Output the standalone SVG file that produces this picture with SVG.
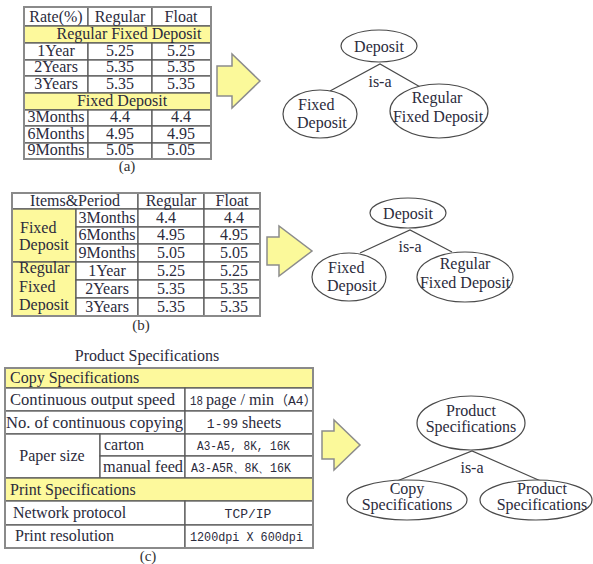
<svg xmlns="http://www.w3.org/2000/svg" width="593" height="564" viewBox="0 0 593 564">
  <style>
    .bg { fill: #ffffff; }
    .cell { fill: #ffffff; stroke: #5a5a5a; stroke-width: 1.3; }
    .hi { fill: #fdf99c; stroke: #5a5a5a; stroke-width: 1.3; }
    .frame { fill: none; stroke: #8a8a8a; stroke-width: 2; }
    .t { font-family: "Liberation Serif", "Times New Roman", serif; font-size: 16px; fill: #2b2b3c; }
    .m { font-family: "Liberation Mono", "Courier New", monospace; font-size: 13px; fill: #2b2b3c; }
    .k { font-family: "Noto Sans CJK SC", sans-serif; font-size: 13px; fill: #2b2b3c; }
    .c { text-anchor: middle; }
    .cap { font-family: "Liberation Serif", "Times New Roman", serif; font-size: 15px; fill: #333; text-anchor: middle; }
    .arrow { fill: #fbf99a; stroke: #8c8c8c; stroke-width: 1.5; stroke-linejoin: miter; }
    .node ellipse { fill: #ffffff; stroke: #4a4a4a; stroke-width: 1.2; }
    .node text, .rel { font-family: "Liberation Serif", "Times New Roman", serif; font-size: 16px; fill: #2b2b3c; }
    .link { stroke: #4a4a4a; stroke-width: 1.2; fill: none; }
  </style>
  <rect class="bg" x="0" y="0" width="593" height="564"/>

  <!-- Table (a): rates by deposit type -->
  <g id="table-a">
    <rect class="cell" x="24" y="7" width="64" height="19"/>
    <rect class="cell" x="88" y="7" width="64" height="19"/>
    <rect class="cell" x="152" y="7" width="59" height="19"/>
    <rect class="hi" x="24" y="26" width="187" height="17"/>
    <rect class="cell" x="24" y="43" width="64" height="17"/>
    <rect class="cell" x="88" y="43" width="64" height="17"/>
    <rect class="cell" x="152" y="43" width="59" height="17"/>
    <rect class="cell" x="24" y="60" width="64" height="16"/>
    <rect class="cell" x="88" y="60" width="64" height="16"/>
    <rect class="cell" x="152" y="60" width="59" height="16"/>
    <rect class="cell" x="24" y="76" width="64" height="17"/>
    <rect class="cell" x="88" y="76" width="64" height="17"/>
    <rect class="cell" x="152" y="76" width="59" height="17"/>
    <rect class="hi" x="24" y="93" width="187" height="17"/>
    <rect class="cell" x="24" y="110" width="64" height="16"/>
    <rect class="cell" x="88" y="110" width="64" height="16"/>
    <rect class="cell" x="152" y="110" width="59" height="16"/>
    <rect class="cell" x="24" y="126" width="64" height="17"/>
    <rect class="cell" x="88" y="126" width="64" height="17"/>
    <rect class="cell" x="152" y="126" width="59" height="17"/>
    <rect class="cell" x="24" y="143" width="64" height="16"/>
    <rect class="cell" x="88" y="143" width="64" height="16"/>
    <rect class="cell" x="152" y="143" width="59" height="16"/>
    <rect class="frame" x="24" y="7" width="187" height="152"/>

    <text class="t c" x="56" y="22">Rate(%)</text>
    <text class="t c" x="120" y="22">Regular</text>
    <text class="t c" x="181" y="22">Float</text>
    <text class="t c" x="129" y="39">Regular Fixed Deposit</text>
    <text class="t c" x="56" y="56">1Year</text>
    <text class="t c" x="120" y="56">5.25</text>
    <text class="t c" x="181" y="56">5.25</text>
    <text class="t c" x="56" y="72">2Years</text>
    <text class="t c" x="120" y="72">5.35</text>
    <text class="t c" x="181" y="72">5.35</text>
    <text class="t c" x="56" y="89">3Years</text>
    <text class="t c" x="120" y="89">5.35</text>
    <text class="t c" x="181" y="89">5.35</text>
    <text class="t c" x="122" y="106">Fixed Deposit</text>
    <text class="t c" x="56" y="122">3Months</text>
    <text class="t c" x="120" y="122">4.4</text>
    <text class="t c" x="181" y="122">4.4</text>
    <text class="t c" x="56" y="139">6Months</text>
    <text class="t c" x="120" y="139">4.95</text>
    <text class="t c" x="181" y="139">4.95</text>
    <text class="t c" x="56" y="155">9Months</text>
    <text class="t c" x="120" y="155">5.05</text>
    <text class="t c" x="181" y="155">5.05</text>
    <text class="cap" x="127" y="171">(a)</text>
  </g>

  <!-- Table (b): rates grouped by item and period -->
  <g id="table-b">
    <rect class="cell" x="12" y="193" width="126" height="16"/>
    <rect class="cell" x="138" y="193" width="66" height="16"/>
    <rect class="cell" x="204" y="193" width="56" height="16"/>
    <rect class="hi" x="12" y="209" width="64" height="53"/>
    <rect class="hi" x="12" y="262" width="64" height="54"/>
    <rect class="cell" x="76" y="209" width="62" height="18"/>
    <rect class="cell" x="138" y="209" width="66" height="18"/>
    <rect class="cell" x="204" y="209" width="56" height="18"/>
    <rect class="cell" x="76" y="227" width="62" height="17"/>
    <rect class="cell" x="138" y="227" width="66" height="17"/>
    <rect class="cell" x="204" y="227" width="56" height="17"/>
    <rect class="cell" x="76" y="244" width="62" height="18"/>
    <rect class="cell" x="138" y="244" width="66" height="18"/>
    <rect class="cell" x="204" y="244" width="56" height="18"/>
    <rect class="cell" x="76" y="262" width="62" height="18"/>
    <rect class="cell" x="138" y="262" width="66" height="18"/>
    <rect class="cell" x="204" y="262" width="56" height="18"/>
    <rect class="cell" x="76" y="280" width="62" height="18"/>
    <rect class="cell" x="138" y="280" width="66" height="18"/>
    <rect class="cell" x="204" y="280" width="56" height="18"/>
    <rect class="cell" x="76" y="298" width="62" height="18"/>
    <rect class="cell" x="138" y="298" width="66" height="18"/>
    <rect class="cell" x="204" y="298" width="56" height="18"/>
    <rect class="frame" x="12" y="193" width="248" height="123"/>

    <text class="t c" x="75" y="206">Items&amp;Period</text>
    <text class="t c" x="171" y="206">Regular</text>
    <text class="t c" x="232" y="206">Float</text>
    <text class="t" x="20" y="233">Fixed</text>
    <text class="t" x="19" y="250">Deposit</text>
    <text class="t" x="19" y="273">Regular</text>
    <text class="t" x="19" y="292">Fixed</text>
    <text class="t" x="19" y="310">Deposit</text>
    <text class="t c" x="107" y="223">3Months</text>
    <text class="t c" x="107" y="240">6Months</text>
    <text class="t c" x="107" y="258">9Months</text>
    <text class="t c" x="107" y="276">1Year</text>
    <text class="t c" x="107" y="294">2Years</text>
    <text class="t c" x="107" y="312">3Years</text>
    <text class="t c" x="166" y="223">4.4</text>
    <text class="t c" x="171" y="240">4.95</text>
    <text class="t c" x="171" y="258">5.05</text>
    <text class="t c" x="171" y="276">5.25</text>
    <text class="t c" x="171" y="294">5.35</text>
    <text class="t c" x="171" y="312">5.35</text>
    <text class="t c" x="234" y="223">4.4</text>
    <text class="t c" x="234" y="240">4.95</text>
    <text class="t c" x="234" y="258">5.05</text>
    <text class="t c" x="234" y="276">5.25</text>
    <text class="t c" x="234" y="294">5.35</text>
    <text class="t c" x="234" y="312">5.35</text>
    <text class="cap" x="141" y="330">(b)</text>
  </g>

  <!-- Table (c): product specifications -->
  <g id="table-c">
    <text class="t c" x="147" y="361">Product Specifications</text>
    <rect class="hi" x="5" y="368" width="308" height="20"/>
    <rect class="cell" x="5" y="388" width="180" height="23"/>
    <rect class="cell" x="185" y="388" width="128" height="23"/>
    <rect class="cell" x="5" y="411" width="180" height="23"/>
    <rect class="cell" x="185" y="411" width="128" height="23"/>
    <rect class="cell" x="5" y="434" width="95" height="44"/>
    <rect class="cell" x="100" y="434" width="85" height="22"/>
    <rect class="cell" x="185" y="434" width="128" height="22"/>
    <rect class="cell" x="100" y="456" width="85" height="22"/>
    <rect class="cell" x="185" y="456" width="128" height="22"/>
    <rect class="hi" x="5" y="478" width="308" height="23"/>
    <rect class="cell" x="5" y="501" width="180" height="24"/>
    <rect class="cell" x="185" y="501" width="128" height="24"/>
    <rect class="cell" x="5" y="525" width="180" height="23"/>
    <rect class="cell" x="185" y="525" width="128" height="23"/>
    <rect class="frame" x="5" y="368" width="308" height="180"/>

    <text class="t" x="10" y="383">Copy Specifications</text>
    <text class="t" x="10" y="405" textLength="165" lengthAdjust="spacingAndGlyphs">Continuous output speed</text>
    <text class="t" x="6" y="428" textLength="177" lengthAdjust="spacingAndGlyphs">No. of continuous copying</text>
    <text class="t c" x="52" y="461">Paper size</text>
    <text class="t" x="104" y="450">carton</text>
    <text class="t" x="103" y="472" textLength="80" lengthAdjust="spacingAndGlyphs">manual feed</text>
    <text class="t" x="10" y="495">Print Specifications</text>
    <text class="t" x="13" y="518">Network protocol</text>
    <text class="t" x="15" y="541">Print resolution</text>

    <!-- "18 page / min（A4）" set in three runs -->
    <text class="m" x="190" y="405" textLength="13" lengthAdjust="spacingAndGlyphs">18</text>
    <text class="t" x="206" y="405" textLength="68" lengthAdjust="spacingAndGlyphs">page / min</text>
    <text class="k" x="275" y="405">（<tspan class="m" font-size="11">A4</tspan>）</text>
    <text class="t c" x="244" y="428"><tspan class="m">1-99</tspan> sheets</text>
    <text class="m" x="197" y="450" textLength="93" lengthAdjust="spacingAndGlyphs">A3-A5, 8K, 16K</text>
    <text class="m" x="191" y="472" textLength="100" lengthAdjust="spacingAndGlyphs">A3-A5R、8K、16K</text>
    <text class="m c" x="248" y="518">TCP/IP</text>
    <text class="m" x="190" y="541" textLength="113" lengthAdjust="spacingAndGlyphs">1200dpi X 600dpi</text>
    <text class="cap" x="148" y="561">(c)</text>
  </g>

  <!-- Block arrows pointing from each table to its hierarchy -->
  <g id="arrows">
    <polygon class="arrow" points="217,66 232,66 232,54 260,81 232,108 232,96 217,96"/>
    <polygon class="arrow" points="267,237 279,237 279,226 312,251 279,276 279,265 267,265"/>
    <polygon class="arrow" points="322,431 334,431 334,420 360,445 334,470 334,459 322,459"/>
  </g>

  <!-- is-a connectors -->
  <g id="connectors">
    <polyline class="link" points="330,91 380,64 422,88"/>
    <polyline class="link" points="360,253 410,230 452,252"/>
    <polyline class="link" points="397,481 472,451 543,482"/>
    <text class="rel c" x="380" y="87">is-a</text>
    <text class="rel c" x="410" y="252">is-a</text>
    <text class="rel c" x="472" y="473">is-a</text>
  </g>

  <!-- Hierarchy (a) -->
  <g id="a-deposit" class="node">
    <ellipse cx="379" cy="46" rx="38" ry="16"/>
    <text x="379" y="52" text-anchor="middle">Deposit</text>
  </g>
  <g id="a-fixed" class="node">
    <ellipse cx="320" cy="114" rx="37" ry="24"/>
    <text x="298" y="110">Fixed</text>
    <text x="297" y="128">Deposit</text>
  </g>
  <g id="a-regular" class="node">
    <ellipse cx="439" cy="111" rx="49" ry="27"/>
    <text x="437" y="103" text-anchor="middle">Regular</text>
    <text x="438" y="122" text-anchor="middle">Fixed Deposit</text>
  </g>

  <!-- Hierarchy (b) -->
  <g id="b-deposit" class="node">
    <ellipse cx="408" cy="213" rx="38" ry="15"/>
    <text x="408" y="219" text-anchor="middle">Deposit</text>
  </g>
  <g id="b-fixed" class="node">
    <ellipse cx="349" cy="277" rx="37" ry="24"/>
    <text x="328" y="273">Fixed</text>
    <text x="327" y="291">Deposit</text>
  </g>
  <g id="b-regular" class="node">
    <ellipse cx="465" cy="277" rx="48" ry="25"/>
    <text x="465" y="269" text-anchor="middle">Regular</text>
    <text x="465" y="288" text-anchor="middle">Fixed Deposit</text>
  </g>

  <!-- Hierarchy (c) -->
  <g id="c-product" class="node">
    <ellipse cx="471" cy="423" rx="54" ry="27"/>
    <text x="471" y="416" text-anchor="middle">Product</text>
    <text x="471" y="432" text-anchor="middle">Specifications</text>
  </g>
  <g id="c-copy" class="node">
    <ellipse cx="407" cy="500" rx="60" ry="20"/>
    <text x="407" y="494" text-anchor="middle">Copy</text>
    <text x="407" y="510" text-anchor="middle">Specifications</text>
  </g>
  <g id="c-print" class="node">
    <ellipse cx="536" cy="500" rx="56" ry="20"/>
    <text x="542" y="494" text-anchor="middle">Product</text>
    <text x="542" y="510" text-anchor="middle">Specifications</text>
  </g>
</svg>
